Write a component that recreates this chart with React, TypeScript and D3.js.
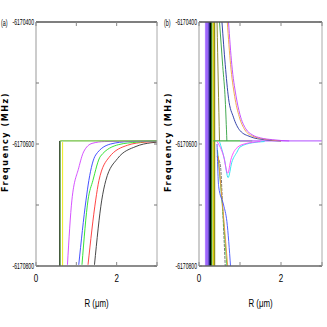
import React from 'react';
import * as d3 from 'd3';

// y tick values (MHz) and x tick values (um)
const yTicks = [-6170800, -6170700, -6170600, -6170500, -6170400];
const yLabels = ['-6170800', '-6170600', '-6170400'];
const xTicks = [0, 1, 2, 3];
const xLabels = [0, 2];

// panel (a): level curves approaching the plateau from below
const plateauA = [[0.6, -6170595], [3, -6170595]];
const vertA = [
  { name: 'black', x: 0.585, top: -6170595, color: '#202020' },
  { name: 'green', x: 0.6, top: -6170595, color: '#3a8a20' },
  { name: 'yellow', x: 0.66, top: -6170597, color: '#e8e800' },
];
const magentaA = [[0.78, -6170798], [0.89, -6170692], [1.06, -6170639], [1.18, -6170613], [1.39, -6170599], [1.7, -6170596], [3, -6170595]];
const blueA = [[1.06, -6170798], [1.24, -6170692], [1.31, -6170660], [1.48, -6170618], [1.85, -6170600], [2.3, -6170596], [3, -6170595]];
const greenA = [[1.14, -6170798], [1.29, -6170692], [1.41, -6170660], [1.6, -6170620], [2.05, -6170601], [2.5, -6170597], [3, -6170595]];
const redA = [[1.29, -6170798], [1.48, -6170692], [1.56, -6170660], [1.81, -6170622], [2.27, -6170602], [2.7, -6170597], [3, -6170596]];
const blackA = [[1.45, -6170798], [1.63, -6170692], [1.73, -6170660], [2.02, -6170624], [2.48, -6170604], [2.85, -6170598], [3, -6170597]];

// panel (b)
const vertB = [
  { name: 'lilac', x: 0.16, color: '#b080ff' },
  { name: 'violet', x: 0.19, color: '#9050ff' },
  { name: 'purple', x: 0.22, color: '#7a3cf0' },
  { name: 'navy', x: 0.25, color: '#101080' },
  { name: 'black', x: 0.28, color: '#000000' },
  { name: 'green', x: 0.31, color: '#2a7a10' },
  { name: 'yellow', x: 0.35, color: '#e0d000' },
  { name: 'olive', x: 0.38, color: '#909020' },
];
const greenPlateauB = [[0.35, -6170595], [1.3, -6170595]];
const violetPlateauB = [[1.0, -6170595], [3, -6170595]];
const magentaUpB = [[0.72, -6170400], [0.8, -6170470], [0.9, -6170520], [1.0, -6170552], [1.14, -6170575], [1.3, -6170585], [1.5, -6170590], [1.8, -6170593], [2.2, -6170595]];
const orangeUpB = [[0.69, -6170400], [0.77, -6170470], [0.87, -6170522], [0.98, -6170555], [1.12, -6170577], [1.3, -6170587], [1.6, -6170592], [2.0, -6170595]];
const blueUpB = [[0.56, -6170400], [0.64, -6170470], [0.72, -6170525], [0.84, -6170556], [1.0, -6170578], [1.25, -6170588], [1.6, -6170593], [2.0, -6170595]];
const greenUpB = [[0.5, -6170400], [0.58, -6170473], [0.64, -6170528], [0.68, -6170595]];
const oliveUpB = [[0.44, -6170400], [0.47, -6170500], [0.5, -6170595]];
const magentaDipB = [[0.44, -6170596], [0.6, -6170620], [0.7, -6170648], [0.78, -6170625], [0.9, -6170608], [1.1, -6170600], [1.5, -6170596]];
const cyanDipB = [[0.5, -6170596], [0.62, -6170625], [0.71, -6170655], [0.8, -6170630], [0.92, -6170614], [1.0, -6170605], [1.3, -6170598], [1.6, -6170596]];
const grayDownB = [[0.44, -6170621], [0.52, -6170634], [0.58, -6170710], [0.64, -6170800]];
const blueDownB = [[0.44, -6170600], [0.48, -6170670], [0.6, -6170700], [0.68, -6170727], [0.77, -6170801]];
const orangeDownB = [[0.47, -6170620], [0.6, -6170720], [0.7, -6170800]];
const greenDownB = [[0.45, -6170610], [0.58, -6170710], [0.68, -6170800]];

const tickFont = "'Liberation Sans', Arial, sans-serif";

const Panel = ({ left, right, tag, children }) => {
  const x = d3.scaleLinear().domain([0, 3]).range([left, right]);
  const y = d3.scaleLinear().domain([-6170800, -6170400]).range([266, 22]);
  const line = d3.line().x(d => x(d[0])).y(d => y(d[1])).curve(d3.curveMonotoneX);
  const clipId = 'clip-' + tag;
  return (
    <g>
      <defs>
        <clipPath id={clipId}>
          <rect x={left} y={22} width={right - left} height={244} />
        </clipPath>
      </defs>
      <g clipPath={`url(#${clipId})`}>{children(x, y, line)}</g>
      {/* frame */}
      <line x1={left} x2={right} y1={22} y2={22} stroke="#555" strokeWidth={1.6} />
      <line x1={left} x2={right} y1={266} y2={266} stroke="#666" strokeWidth={1.6} />
      <line x1={left} x2={left} y1={22} y2={266} stroke="#999" strokeWidth={1} />
      <line x1={right} x2={right} y1={22} y2={266} stroke="#aaa" strokeWidth={1} />
      {yTicks.map(t => (
        <g key={t}>
          <line x1={left} x2={left + 3} y1={y(t)} y2={y(t)} stroke="#777" />
          <line x1={right} x2={right - 3} y1={y(t)} y2={y(t)} stroke="#777" />
        </g>
      ))}
      {xTicks.map(t => (
        <g key={t}>
          <line x1={x(t)} x2={x(t)} y1={266} y2={262} stroke="#888" />
          <line x1={x(t)} x2={x(t)} y1={22} y2={26} stroke="#888" />
        </g>
      ))}
      {yLabels.map(t => (
        <text key={t} transform={`translate(${left - 2},${y(+t) + 3}) scale(0.6,1)`} fontSize={8.5}
          textAnchor="end" fontFamily={tickFont}>{t}</text>
      ))}
      {xLabels.map(t => (
        <text key={t} transform={`translate(${x(t)},282) scale(0.8,1)`} fontSize={10}
          textAnchor="middle" fontFamily={tickFont}>{t}</text>
      ))}
      <text transform={`translate(${(left + right) / 2},307) scale(0.75,1)`} fontSize={10.5}
        textAnchor="middle" fontFamily={tickFont}>R (μm)</text>
      <text transform={`translate(${left - 35},26) scale(0.6,1)`} fontSize={9} fontFamily={tickFont}>({tag})</text>
      <text transform={`translate(${left - 28},142) rotate(-90)`} fontSize={8} fontWeight="bold" letterSpacing={1.6}
        textAnchor="middle" fontFamily="'DejaVu Sans', sans-serif">Frequency (MHz)</text>
    </g>
  );
};

export default function App() {
  const w = 0.9;
  return (
    <svg width={327} height={327} style={{ position: 'absolute', left: 0, top: 0, background: '#fff' }}>
      <Panel left={36} right={157} tag="a">
        {(x, y, line) => (
          <g fill="none" strokeWidth={w}>
            {vertA.map(v => (
              <line key={v.name} x1={x(v.x)} x2={x(v.x)} y1={y(v.top)} y2={y(-6170800)} stroke={v.color} />
            ))}
            <path d={line(blackA)} stroke="#333" />
            <path d={line(redA)} stroke="#ff3030" />
            <path d={line(greenA)} stroke="#20e020" />
            <path d={line(blueA)} stroke="#3040ff" />
            <path d={line(magentaA)} stroke="#d040ff" />
            <path d={line(plateauA)} stroke="#70c040" strokeWidth={1.2} />
          </g>
        )}
      </Panel>
      <Panel left={199} right={322} tag="b">
        {(x, y, line) => (
          <g fill="none" strokeWidth={w}>
            {vertB.map(v => (
              <line key={v.name} x1={x(v.x)} x2={x(v.x)} y1={y(-6170400)} y2={y(-6170800)} stroke={v.color} strokeWidth={1.3} />
            ))}
            <path d={line(greenPlateauB)} stroke="#40b040" strokeWidth={1.2} />
            <path d={line(violetPlateauB)} stroke="#c070ff" strokeWidth={1.2} />
            <path d={line(oliveUpB)} stroke="#808020" />
            <path d={line(greenUpB)} stroke="#30a040" />
            <path d={line(blueUpB)} stroke="#2030a0" />
            <path d={line(orangeUpB)} stroke="#f0a040" />
            <path d={line(magentaUpB)} stroke="#c040ff" />
            <path d={line(cyanDipB)} stroke="#20e0f0" />
            <path d={line(magentaDipB)} stroke="#ff40ff" />
            <path d={line(grayDownB)} stroke="#666" strokeDasharray="3,1" />
            <path d={line(greenDownB)} stroke="#40d040" />
            <path d={line(orangeDownB)} stroke="#f09040" />
            <path d={line(blueDownB)} stroke="#4050ff" />
          </g>
        )}
      </Panel>
    </svg>
  );
}
